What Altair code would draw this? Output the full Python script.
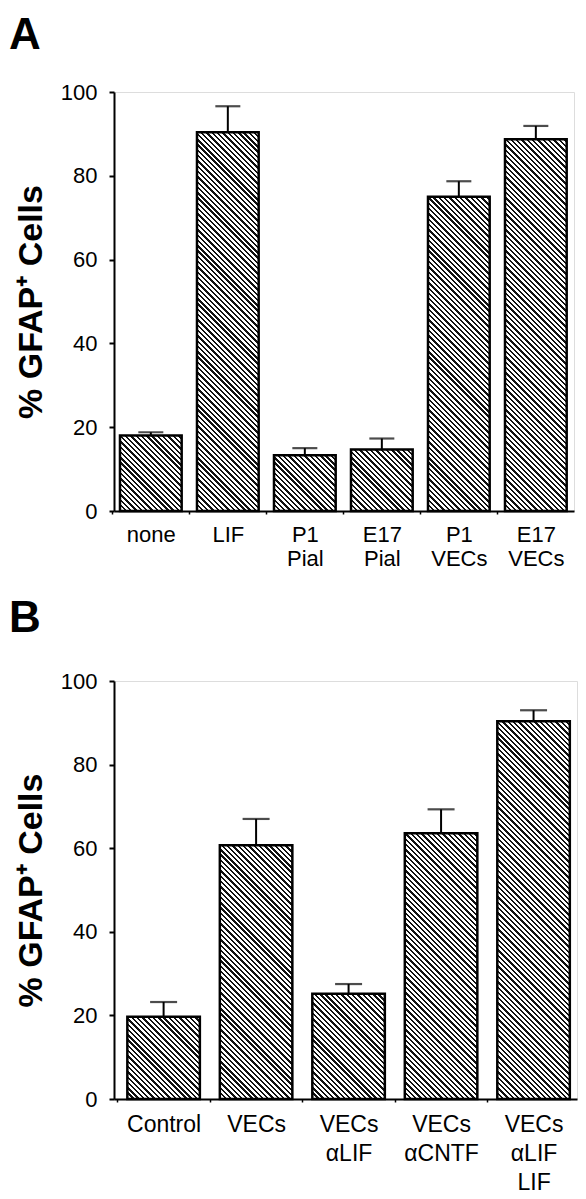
import altair as alt
import pandas as pd

# ---------------- data ----------------
A_KEYS = ["none", "LIF", "P1|Pial", "E17|Pial", "P1|VECs", "E17|VECs"]
A_VALUES = [18.0, 90.4, 13.3, 14.7, 75.0, 88.7]
A_ERRORS = [0.8, 6.2, 1.7, 2.6, 3.7, 3.2]

B_KEYS = ["Control", "VECs", "VECs|αLIF", "VECs|αCNTF", "VECs|αLIF|LIF"]
B_VALUES = [19.7, 60.7, 25.2, 63.6, 90.4]
B_ERRORS = [3.5, 6.3, 2.3, 5.7, 2.6]

Y_TICKS = [0, 20, 40, 60, 80, 100]
Y_TITLE = "% GFAP⁺ Cells"

FONT = "Liberation Sans"


def hatch(w, h, period=5.3, dark=0.45):
    """Diagonal '\\' hatch as a hard-stop linear gradient in bbox units."""
    s = (w + h) / (w * w + h * h)
    n = (w + h) / period
    stops = []
    k = 0
    while k / n < 1:
        a = k / n
        b = min((k + dark) / n, 1.0)
        stops.append({"offset": round(a, 5), "color": "#111"})
        stops.append({"offset": round(b, 5), "color": "#111"})
        if b < 1:
            c = min((k + 1) / n, 1.0)
            stops.append({"offset": round(b, 5), "color": "#ffffff"})
            stops.append({"offset": round(c, 5), "color": "#ffffff"})
        k += 1
    return {"gradient": "linear", "x1": 0, "y1": 1,
            "x2": w * s, "y2": 1 - h * s, "stops": stops}


def panel(keys, vals, errs, letter, W, H, pi, po, align, lab_size,
          lab_lh, lab_pad, title_offset, cap):
    df = pd.DataFrame({"key": keys, "value": vals,
                       "hi": [v + e for v, e in zip(vals, errs)]})
    step = W / (len(keys) - pi + 2 * po)
    bw = step * (1 - pi)
    gap = step * pi

    xaxis = alt.Axis(title=None, labelExpr="split(datum.value, '|')",
                     labelAngle=0, labelFontSize=lab_size,
                     labelLineHeight=lab_lh, labelBaseline="top",
                     labelPadding=lab_pad, tickSize=3, tickWidth=1.5,
                     tickColor="black", domainColor="black", domainWidth=2,
                     bandPosition=0, tickOffset=-gap / 2,
                     labelOffset=gap / 2,
                     labelColor="black", labelFont=FONT)
    xenc = alt.X("key:N", sort=keys,
                 scale=alt.Scale(paddingInner=pi, paddingOuter=po,
                                 align=align),
                 axis=xaxis)
    yaxis = alt.Axis(title=Y_TITLE, values=Y_TICKS, grid=False,
                     tickSize=5, tickWidth=2, tickColor="black",
                     domainColor="black", domainWidth=2,
                     labelPadding=12, labelFontSize=22, labelColor="black",
                     labelFont=FONT, titleFont=FONT, titleFontSize=34,
                     titleFontWeight="bold", titleColor="black",
                     titleAngle=270, titleX=-83, titleY=H / 2,
                     titleAlign="center", titleBaseline="middle")

    def yenc(field):
        return alt.Y(field, scale=alt.Scale(domain=[0, 100], nice=False),
                     axis=yaxis)

    layers = []
    for k, v in zip(keys, vals):
        g = hatch(bw, v / 100 * H)
        layers.append(
            alt.Chart(df)
            .transform_filter(alt.datum.key == k)
            .mark_bar(fill=g, stroke="black", strokeWidth=2.5)
            .encode(x=xenc, y=yenc("value:Q"))
        )
    rule = alt.Chart(df).mark_rule(color="black", strokeWidth=2).encode(
        x=xenc, y=yenc("value:Q"), y2="hi:Q")
    capm = alt.Chart(df).mark_tick(color="black", thickness=2.2,
                                   size=cap).encode(x=xenc, y=yenc("hi:Q"))
    return alt.layer(*layers, rule, capm).properties(
        width=W, height=H,
        title=alt.TitleParams(letter, anchor="start", frame="bounds",
                              fontSize=44, fontWeight="bold", font=FONT,
                              color="black", dx=-5, offset=title_offset),
    )


pa = panel(A_KEYS, A_VALUES, A_ERRORS, "A", W=460, H=419, pi=0.199,
           po=0.0864, align=0.45, lab_size=22, lab_lh=24, lab_pad=10,
           title_offset=23, cap=25)
pb = panel(B_KEYS, B_VALUES, B_ERRORS, "B", W=463, H=418, pi=0.216,
           po=0.111, align=0.65, lab_size=23, lab_lh=29, lab_pad=11.5,
           title_offset=29, cap=27)

chart = (
    alt.vconcat(pa, pb, spacing=26)
    .properties(padding={"left": 0, "top": 5, "right": 0, "bottom": 0})
    .configure_view(stroke=None)
    .configure(font=FONT)
)

chart.save("out.html", embed_options={"renderer": "svg", "actions": False})
